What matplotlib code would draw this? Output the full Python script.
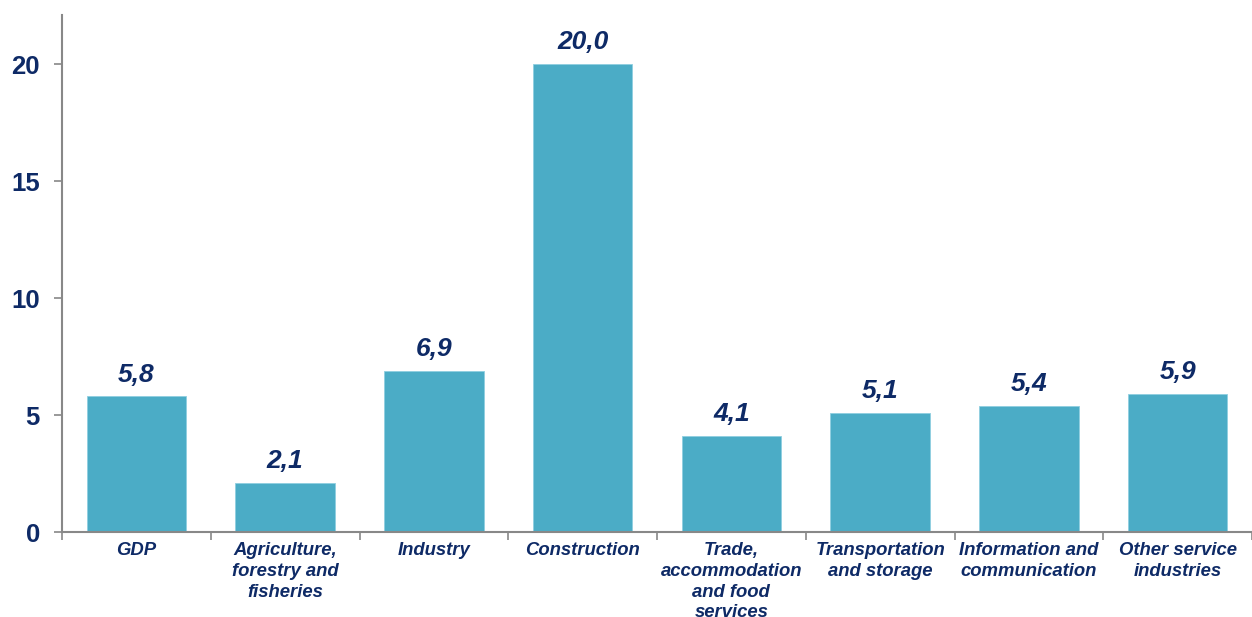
import numpy as np
import matplotlib.pyplot as plt

categories = ["GDP", "Agriculture,\nforestry and\nfisheries", "Industry", "Construction",
              "Trade,\naccommodation\nand food\nservices", "Transportation\nand storage",
              "Information and\ncommunication", "Other service\nindustries"]
values = [5.8, 2.1, 6.9, 20.0, 4.1, 5.1, 5.4, 5.9]
yticks = [0, 5, 10, 15, 20]

bar_color = "#4BACC6"
text_color = "#0E2A66"
axis_color = "#888888"

plt.rcParams['font.family'] = ['Liberation Sans', 'DejaVu Sans']

fig = plt.figure(figsize=(12.52, 6.17), dpi=100)
ax = fig.add_axes([62 / 1252, 1 - 532 / 617, 1 - 62 / 1252, (532 - 15) / 617])

x = np.arange(len(values))
bars = ax.bar(x, values, width=0.67, color=bar_color, edgecolor="#8FCFE0", linewidth=0.6, zorder=2)

for xi, v in zip(x, values):
    ax.annotate(f"{v:.1f}".replace(".", ","), (xi, v), xytext=(0, 7), textcoords="offset points",
                ha="center", va="bottom", fontsize=19, fontweight="bold", fontstyle="italic",
                color=text_color)

ax.set_xlim(-0.5, len(values) - 0.5)
ax.set_ylim(0, 22.1)

ax.set_yticks(yticks)
ax.set_yticklabels([str(t) for t in yticks], fontsize=18.5, fontweight="bold", color=text_color)
ax.tick_params(axis="y", direction="out", length=6, width=1.2, color=axis_color, pad=10)

ax.set_xticks(x)
ax.set_xticklabels(categories, fontsize=13.3, fontweight="bold", fontstyle="italic",
                   color=text_color, linespacing=1.3, va="top")
ax.tick_params(axis="x", which="major", length=0, pad=7)
ax.set_xticks(np.arange(len(values) + 1) - 0.5, minor=True)
ax.tick_params(axis="x", which="minor", direction="out", length=6, width=1.2, color=axis_color)

for side in ["top", "right"]:
    ax.spines[side].set_visible(False)
for side in ["left", "bottom"]:
    ax.spines[side].set_color(axis_color)
    ax.spines[side].set_linewidth(1.5)

fig.savefig("out.png", dpi=100)
